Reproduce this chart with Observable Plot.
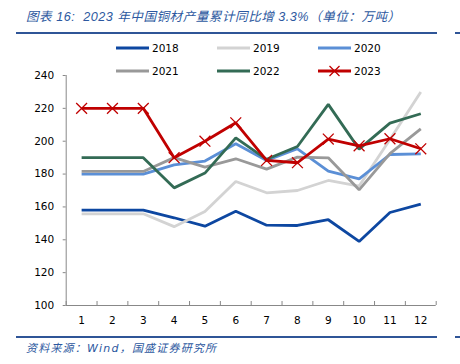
<!DOCTYPE html>
<html>
<head>
<meta charset="utf-8">
<script src="https://cdn.jsdelivr.net/npm/d3@7"></script>
<script src="https://cdn.jsdelivr.net/npm/@observablehq/plot@0.6"></script>
<style>
  html, body { margin: 0; padding: 0; background: #fff; }
  #wrap { position: relative; width: 460px; height: 364px; overflow: hidden; font-family: "DejaVu Sans", sans-serif; }
  #chart { position: absolute; left: 0; top: 0; }
  .title { position: absolute; left: 26px; top: 6px; font-size: 12.6px; letter-spacing: 0.5px; font-style: italic; color: #2c58a0; white-space: nowrap; font-family: "Liberation Sans", "Noto Sans CJK SC", sans-serif; }
  .hr { position: absolute; height: 2px; background: #2f5597; }
  .source { position: absolute; left: 26px; top: 339px; font-size: 11px; letter-spacing: 1.2px; font-style: italic; color: #2c58a0; white-space: nowrap; font-family: "DejaVu Sans", "Noto Sans CJK SC", sans-serif; }
  .legend { position: absolute; left: 116px; top: 40px; display: grid; grid-template-columns: 101px 101px 101px; grid-auto-rows: 22.5px; font-size: 10.5px; color: #000; }
  .item { display: flex; align-items: center; height: 16px; }
  .item svg { margin-right: 3px; }
</style>
</head>
<body>
<div id="wrap">
  <div id="chart"></div>
  <div class="title">图表 16:&nbsp; 2023 年中国铜材产量累计同比增 3.3%（单位：万吨）</div>
  <div class="hr" style="left:16px; top:32px; width:421px;"></div>
  <div class="hr" style="left:455px; top:32px; width:5px;"></div>
  <div class="legend" id="legend"></div>
  <div class="hr" style="left:16px; top:336px; width:421px;"></div>
  <div class="hr" style="left:455px; top:336px; width:5px;"></div>
  <div class="source">资料来源：Wind，国盛证券研究所</div>
</div>
<script>
const months = [1, 2, 3, 4, 5, 6, 7, 8, 9, 10, 11, 12];
const years = ["2018", "2019", "2020", "2021", "2022", "2023"];
const v2018 = [158, 158, 158, 153.4, 148.3, 157.4, 148.9, 148.7, 152.2, 139, 156.6, 161.7];
const v2019 = [155.8, 155.8, 155.8, 148, 157.2, 175.5, 168.6, 170, 176.1, 172.7, 201, 229.9];
const v2020 = [180, 180, 180, 185.6, 187.9, 198.4, 188.3, 195.4, 181.8, 177.1, 191.9, 192.3];
const v2021 = [181.6, 181.6, 181.6, 190, 184.2, 189.3, 183, 190.3, 189.9, 170.4, 192.5, 207.5];
const v2022 = [190, 190, 190, 171.6, 180.6, 202, 189, 196.8, 222.4, 195.2, 211, 216.7];
const v2023 = [220, 220, 220, 190, 200, 211.2, 188.3, 186.9, 201.3, 197.2, 201.5, 195.4];
const yTicks = [100, 120, 140, 160, 180, 200, 220, 240];
const colors = ["#0d47a1", "#d3d3d3", "#5b8fd6", "#999999", "#336b55", "#c00000"];

const series = [v2018, v2019, v2020, v2021, v2022, v2023];
const rows = [];
series.forEach((vals, i) => vals.forEach((v, j) => rows.push({ year: years[i], month: months[j], value: v })));
const marked = rows.filter(d => d.year === "2023");
const bounds = [0.5, ...months.map(m => m + 0.5)];

const chart = Plot.plot({
  width: 460,
  height: 364,
  marginTop: 75,
  marginBottom: 59,
  marginLeft: 65.7,
  marginRight: 24.3,
  style: { fontFamily: "DejaVu Sans, sans-serif", fontSize: "10.5px", color: "#000", background: "transparent" },
  x: { type: "linear", domain: [0.5, 12.5] },
  y: { domain: [100, 240] },
  color: { domain: years, range: colors },
  marks: [
    Plot.ruleX([0.5], { stroke: "#888", strokeWidth: 1 }),
    Plot.ruleY([100], { stroke: "#888", strokeWidth: 1 }),
    Plot.axisY({ ticks: yTicks, tickSize: 3, tickPadding: 9, stroke: "#888", fill: "#000", label: null }),
    Plot.axisX({ ticks: bounds, tickSize: 4, dy: -4, tickFormat: () => "", stroke: "#888", label: null }),
    Plot.axisX({ ticks: months, tickSize: 0, tickPadding: 11, tickFormat: d => String(d), fill: "#000", label: null }),
    Plot.line(rows, { x: "month", y: "value", z: "year", stroke: "year", strokeWidth: 2.8, strokeLinejoin: "miter", strokeLinecap: "butt" }),
    Plot.dot(marked, { x: "month", y: "value", symbol: "times", r: 5, stroke: colors[5], strokeWidth: 1.3 })
  ]
});
document.getElementById("chart").appendChild(chart);

const legend = document.getElementById("legend");
years.forEach((y, i) => {
  const item = document.createElement("div");
  item.className = "item";
  const marker = i === 5 ? `<path d="M11.5,3 L21.5,13 M21.5,3 L11.5,13" stroke="${colors[i]}" stroke-width="1.3"/>` : "";
  item.innerHTML = `<svg width="33" height="16"><line x1="0" x2="33" y1="8" y2="8" stroke="${colors[i]}" stroke-width="3"/>${marker}</svg><span>${y}</span>`;
  legend.appendChild(item);
});
</script>
</body>
</html>
